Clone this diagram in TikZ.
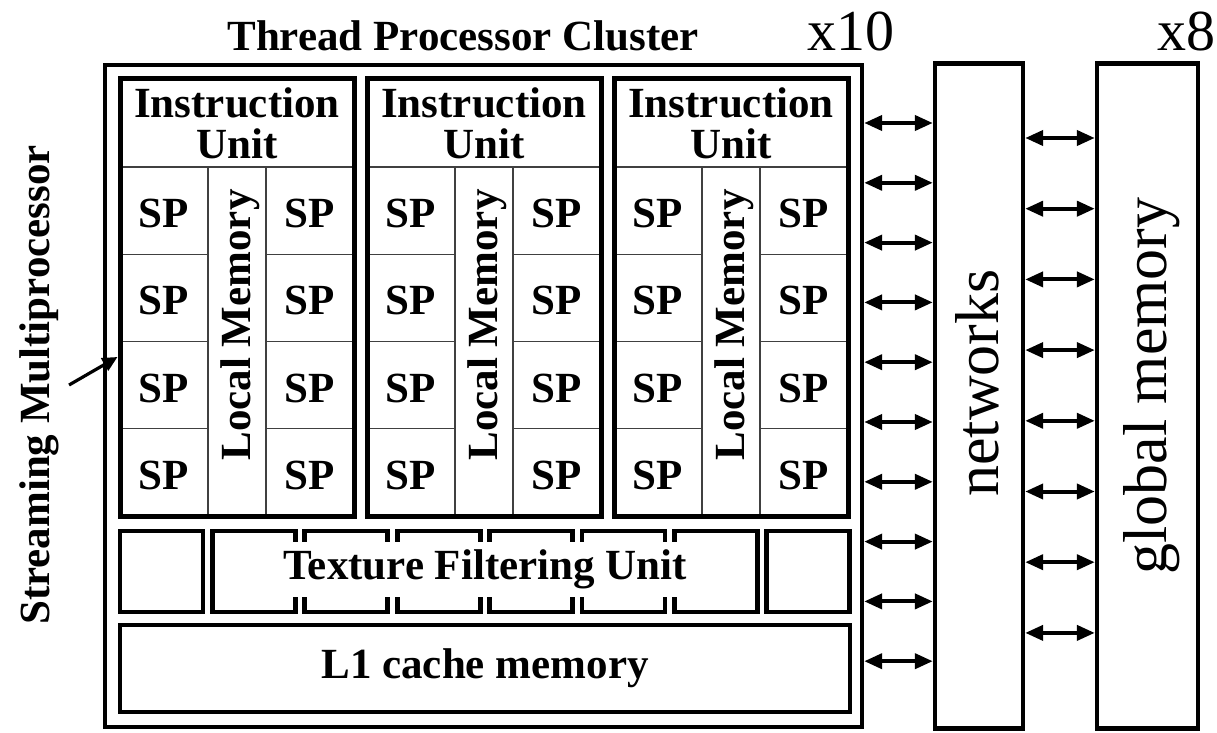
\documentclass[tikz,border=0pt]{standalone}
\usepackage{fontspec}
\setmainfont{Liberation Serif}
\usetikzlibrary{arrows.meta,positioning}
\newcommand{\unitfont}{\fontsize{21.5pt}{20.5pt}\selectfont\bfseries}
\newcommand{\countfont}{\fontsize{29pt}{30pt}\selectfont}
\newcommand{\memfont}{\fontsize{31pt}{32pt}\selectfont}
\tikzset{
  clusterbox/.style={draw, line width=2.2pt, inner sep=0pt},
  smbox/.style={draw, line width=2.5pt, minimum width=117pt, minimum height=218.5pt,
    inner sep=0pt},
  cellbox/.style={draw=black!75, line width=0.6pt, inner sep=0pt, font=\unitfont,
    align=center},
  spcell/.style={cellbox, minimum width=44pt, minimum height=43.625pt,
    text height=17pt, text depth=0pt},
  texbox/.style={draw, line width=2.4pt, minimum width=41.5pt, minimum height=40.5pt,
    inner sep=0pt},
  membox/.style={draw, line width=2.2pt, minimum width=44pt, minimum height=332.5pt,
    inner sep=0pt},
  vlabel/.style={rotate=90, inner sep=0pt},
  busarrow/.style={{Triangle[length=9pt,width=7.5pt]}-{Triangle[length=9pt,width=7.5pt]},
    line width=2pt},
  smarrow/.style={-{Triangle[length=7.5pt,width=7pt]}, line width=1.6pt}
}

\begin{document}
\begin{tikzpicture}[x=0.5pt, y=-0.5pt]
  \useasboundingbox (0,0) rectangle (1217,733);
  \node[clusterbox, minimum width=378.5pt, minimum height=331pt] (cluster) at (483.5,396) {};
  \node[font=\unitfont] (title) at (463,36) {Thread Processor Cluster};
  \node[font=\countfont] (tpcnum) at (851,31) {x10};
  % three multiprocessors
  \foreach \k/\ox in {1/120,2/367,3/614} {
    \node[cellbox, minimum width=117pt, minimum height=44pt] (iu\k) at ({\ox+117},123)
      {Instruction\\Unit};
    \node[cellbox, minimum width=29pt, minimum height=174.5pt] (lm\k) at ({\ox+117},341.5) {};
    \node[vlabel, font=\unitfont] (lmtext\k) at ({\ox+120},325) {Local Memory};
    \foreach \r in {1,...,4} {
      \node[spcell] (spl\k\r) at ({\ox+44},{167+87.25*(\r-0.5)}) {SP};
      \node[spcell] (spr\k\r) at ({\ox+190},{167+87.25*(\r-0.5)}) {SP};
    }
    \node[smbox] (sm\k) at ({\ox+117},297.5) {};
  }
  % texture row and L1
  \foreach \i in {0,...,7}
    \node[texbox] (tex\i) at ({161.5+92.4*\i},571.5) {};
  \node[fill=white, inner sep=0pt, minimum width=195pt, minimum height=27.5pt,
    font=\unitfont] (tfu) at (485,569) {Texture Filtering Unit};
  \node[texbox, minimum width=365pt, minimum height=43.5pt, font=\unitfont] (l1)
    at (485,668.5) {L1 cache memory};
  % interconnect and memory
  \node[membox, right=34.3pt of cluster] (net) {};
  \node[membox, minimum width=50.5pt, right=34.8pt of net] (gmem) {};
  \node[vlabel, font=\memfont] (nettext) at (977,383) {networks};
  \node[vlabel, font=\memfont] (gmemtext) at (1152,386) {global memory};
  \node[font=\countfont] (memnum) at (1186,31) {x8};
  \foreach \i in {0,...,9} {
    \coordinate (ya\i) at (0,{123+59.8*\i});
    \draw[busarrow] (cluster.east |- ya\i) -- (net.west |- ya\i);
  }
  \foreach \i in {0,...,7} {
    \coordinate (yb\i) at (0,{138+70.7*\i});
    \draw[busarrow] (net.east |- yb\i) -- (gmem.west |- yb\i);
  }
  \node[vlabel, inner sep=5pt, font=\unitfont] (smlabel) at (39,385) {Streaming Multiprocessor};
  \draw[smarrow] (smlabel.south) -- ([yshift=-29.75pt]sm1.west);
\end{tikzpicture}
\end{document}
